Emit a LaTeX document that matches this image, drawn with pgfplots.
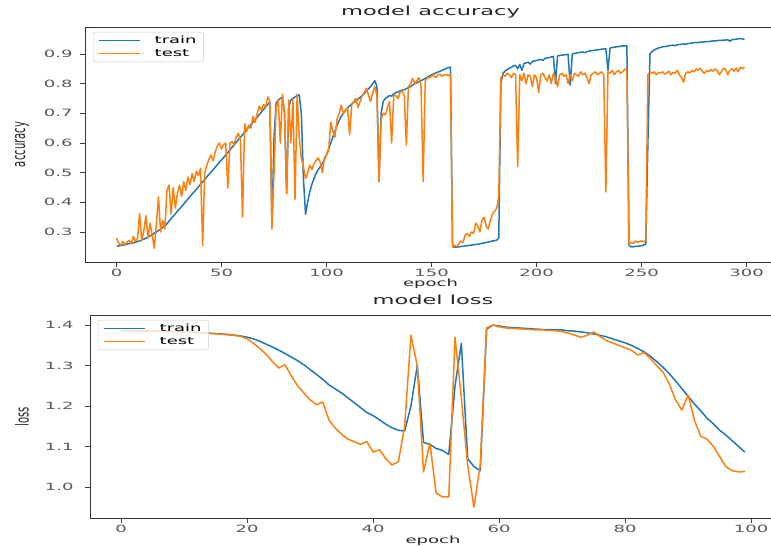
\documentclass[border=0pt]{standalone}
\usepackage{pgfplots}
\pgfplotsset{compat=1.18}
\usepackage{pgfplotstable}
\usepackage{graphicx}
\usepackage{fontspec}
\setmainfont{DejaVu Sans}[FakeStretch=1.8]
\newfontfamily\plainfont{DejaVu Sans}

\definecolor{mplblue}{HTML}{1F77B4}
\definecolor{mplorange}{HTML}{FF7F0E}

% accuracy per epoch: train, test
\pgfplotstableread[row sep=\\]{
e tr te \\
0 0.252 0.280 \\ 1 0.253 0.262 \\ 2 0.254 0.255 \\ 3 0.256 0.268 \\ 4 0.257 0.258 \\
5 0.259 0.265 \\ 6 0.261 0.272 \\ 7 0.262 0.260 \\ 8 0.264 0.285 \\ 9 0.266 0.268 \\
10 0.268 0.278 \\ 11 0.270 0.362 \\ 12 0.273 0.270 \\ 13 0.276 0.305 \\ 14 0.279 0.355 \\
15 0.283 0.280 \\ 16 0.287 0.330 \\ 17 0.291 0.290 \\ 18 0.296 0.245 \\ 19 0.300 0.330 \\
20 0.305 0.418 \\ 21 0.310 0.300 \\ 22 0.315 0.340 \\ 23 0.320 0.310 \\ 24 0.328 0.440 \\
25 0.337 0.458 \\ 26 0.345 0.360 \\ 27 0.353 0.450 \\ 28 0.361 0.380 \\ 29 0.370 0.430 \\
30 0.378 0.458 \\ 31 0.386 0.420 \\ 32 0.394 0.470 \\ 33 0.403 0.440 \\ 34 0.411 0.485 \\
35 0.419 0.460 \\ 36 0.428 0.498 \\ 37 0.436 0.470 \\ 38 0.444 0.505 \\ 39 0.452 0.490 \\
40 0.461 0.515 \\ 41 0.469 0.255 \\ 42 0.477 0.500 \\ 43 0.486 0.525 \\ 44 0.494 0.545 \\
45 0.502 0.560 \\ 46 0.510 0.540 \\ 47 0.518 0.570 \\ 48 0.527 0.590 \\ 49 0.535 0.600 \\
50 0.543 0.580 \\ 51 0.551 0.595 \\ 52 0.560 0.600 \\ 53 0.568 0.448 \\ 54 0.577 0.600 \\
55 0.585 0.605 \\ 56 0.594 0.595 \\ 57 0.602 0.620 \\ 58 0.611 0.633 \\ 59 0.619 0.610 \\
60 0.628 0.350 \\ 61 0.636 0.665 \\ 62 0.645 0.640 \\ 63 0.653 0.660 \\ 64 0.662 0.650 \\
65 0.670 0.690 \\ 66 0.679 0.670 \\ 67 0.687 0.700 \\ 68 0.696 0.724 \\ 69 0.704 0.710 \\
70 0.713 0.730 \\ 71 0.721 0.720 \\ 72 0.730 0.755 \\ 73 0.738 0.740 \\ 74 0.330 0.310 \\
75 0.620 0.500 \\ 76 0.735 0.720 \\ 77 0.745 0.745 \\ 78 0.750 0.600 \\ 79 0.755 0.765 \\
80 0.700 0.700 \\ 81 0.430 0.430 \\ 82 0.720 0.745 \\ 83 0.745 0.600 \\ 84 0.750 0.745 \\
85 0.755 0.410 \\ 86 0.760 0.765 \\ 87 0.762 0.620 \\ 88 0.700 0.550 \\ 89 0.480 0.520 \\
90 0.360 0.480 \\ 91 0.400 0.500 \\ 92 0.435 0.525 \\ 93 0.460 0.510 \\ 94 0.480 0.530 \\
95 0.497 0.540 \\ 96 0.510 0.550 \\ 97 0.520 0.535 \\ 98 0.530 0.500 \\ 99 0.545 0.550 \\
100 0.560 0.560 \\ 101 0.580 0.575 \\ 102 0.600 0.670 \\ 103 0.620 0.640 \\ 104 0.640 0.620 \\
105 0.660 0.680 \\ 106 0.675 0.700 \\ 107 0.690 0.727 \\ 108 0.700 0.700 \\ 109 0.710 0.710 \\
110 0.718 0.720 \\ 111 0.725 0.627 \\ 112 0.731 0.730 \\ 113 0.737 0.740 \\ 114 0.742 0.750 \\
115 0.748 0.720 \\ 116 0.754 0.740 \\ 117 0.760 0.760 \\ 118 0.767 0.770 \\ 119 0.775 0.785 \\
120 0.783 0.760 \\ 121 0.790 0.740 \\ 122 0.800 0.770 \\ 123 0.810 0.790 \\ 124 0.790 0.760 \\
125 0.470 0.470 \\ 126 0.700 0.680 \\ 127 0.740 0.700 \\ 128 0.750 0.695 \\ 129 0.755 0.720 \\
130 0.760 0.740 \\ 131 0.758 0.600 \\ 132 0.765 0.760 \\ 133 0.770 0.760 \\ 134 0.772 0.750 \\
135 0.775 0.770 \\ 136 0.778 0.775 \\ 137 0.780 0.760 \\ 138 0.783 0.593 \\ 139 0.787 0.790 \\
140 0.790 0.800 \\ 141 0.795 0.818 \\ 142 0.800 0.800 \\ 143 0.803 0.810 \\ 144 0.807 0.820 \\
145 0.810 0.790 \\ 146 0.814 0.470 \\ 147 0.818 0.810 \\ 148 0.822 0.820 \\ 149 0.826 0.820 \\
150 0.830 0.825 \\ 151 0.833 0.830 \\ 152 0.836 0.820 \\ 153 0.839 0.830 \\ 154 0.842 0.832 \\
155 0.845 0.825 \\ 156 0.848 0.830 \\ 157 0.851 0.830 \\ 158 0.854 0.828 \\ 159 0.856 0.830 \\
160 0.250 0.250 \\ 161 0.249 0.255 \\ 162 0.249 0.250 \\ 163 0.250 0.260 \\ 164 0.251 0.270 \\
165 0.252 0.265 \\ 166 0.253 0.290 \\ 167 0.254 0.295 \\ 168 0.255 0.285 \\ 169 0.256 0.300 \\
170 0.257 0.295 \\ 171 0.258 0.330 \\ 172 0.259 0.320 \\ 173 0.260 0.300 \\ 174 0.262 0.340 \\
175 0.263 0.350 \\ 176 0.265 0.320 \\ 177 0.266 0.310 \\ 178 0.268 0.340 \\ 179 0.270 0.360 \\
180 0.271 0.370 \\ 181 0.272 0.380 \\ 182 0.280 0.420 \\ 183 0.800 0.820 \\ 184 0.835 0.830 \\
185 0.842 0.825 \\ 186 0.848 0.835 \\ 187 0.852 0.830 \\ 188 0.855 0.820 \\ 189 0.860 0.835 \\
190 0.862 0.830 \\ 191 0.850 0.520 \\ 192 0.865 0.830 \\ 193 0.845 0.810 \\ 194 0.868 0.835 \\
195 0.870 0.800 \\ 196 0.872 0.830 \\ 197 0.866 0.825 \\ 198 0.875 0.790 \\ 199 0.877 0.830 \\
200 0.878 0.820 \\ 201 0.880 0.770 \\ 202 0.882 0.830 \\ 203 0.878 0.835 \\ 204 0.885 0.820 \\
205 0.887 0.810 \\ 206 0.888 0.830 \\ 207 0.890 0.800 \\ 208 0.892 0.835 \\ 209 0.800 0.820 \\
210 0.894 0.790 \\ 211 0.895 0.830 \\ 212 0.896 0.835 \\ 213 0.897 0.825 \\ 214 0.898 0.830 \\
215 0.899 0.800 \\ 216 0.795 0.830 \\ 217 0.900 0.810 \\ 218 0.902 0.835 \\ 219 0.903 0.830 \\
220 0.905 0.825 \\ 221 0.906 0.840 \\ 222 0.907 0.830 \\ 223 0.904 0.835 \\ 224 0.908 0.820 \\
225 0.910 0.800 \\ 226 0.911 0.830 \\ 227 0.912 0.835 \\ 228 0.913 0.840 \\ 229 0.914 0.830 \\
230 0.915 0.835 \\ 231 0.916 0.840 \\ 232 0.917 0.830 \\ 233 0.918 0.435 \\ 234 0.845 0.840 \\
235 0.920 0.835 \\ 236 0.922 0.845 \\ 237 0.923 0.830 \\ 238 0.924 0.840 \\ 239 0.925 0.845 \\
240 0.926 0.835 \\ 241 0.927 0.840 \\ 242 0.927 0.850 \\ 243 0.928 0.845 \\ 244 0.255 0.260 \\
245 0.250 0.265 \\ 246 0.250 0.262 \\ 247 0.252 0.270 \\ 248 0.252 0.265 \\ 249 0.253 0.268 \\
250 0.254 0.270 \\ 251 0.256 0.266 \\ 252 0.260 0.272 \\ 253 0.600 0.830 \\ 254 0.900 0.840 \\
255 0.908 0.835 \\ 256 0.914 0.840 \\ 257 0.917 0.830 \\ 258 0.920 0.838 \\ 259 0.922 0.835 \\
260 0.924 0.840 \\ 261 0.925 0.832 \\ 262 0.926 0.836 \\ 263 0.928 0.842 \\ 264 0.929 0.830 \\
265 0.930 0.838 \\ 266 0.928 0.835 \\ 267 0.931 0.845 \\ 268 0.932 0.830 \\ 269 0.933 0.820 \\
270 0.934 0.805 \\ 271 0.933 0.835 \\ 272 0.935 0.840 \\ 273 0.936 0.836 \\ 274 0.937 0.845 \\
275 0.938 0.840 \\ 276 0.938 0.850 \\ 277 0.939 0.845 \\ 278 0.940 0.852 \\ 279 0.940 0.840 \\
280 0.941 0.835 \\ 281 0.942 0.845 \\ 282 0.942 0.840 \\ 283 0.943 0.848 \\ 284 0.944 0.842 \\
285 0.944 0.850 \\ 286 0.945 0.845 \\ 287 0.946 0.830 \\ 288 0.946 0.840 \\ 289 0.947 0.852 \\
290 0.947 0.848 \\ 291 0.948 0.830 \\ 292 0.943 0.845 \\ 293 0.948 0.850 \\ 294 0.949 0.842 \\
295 0.950 0.853 \\ 296 0.951 0.840 \\ 297 0.952 0.855 \\ 298 0.951 0.850 \\ 299 0.949 0.856 \\
}\acc

% loss per epoch: train, test
\pgfplotstableread[row sep=\\]{
e tr te \\
0 1.3865 1.3865 \\ 1 1.3862 1.3862 \\ 2 1.3860 1.3859 \\ 3 1.3858 1.3857 \\ 4 1.3855 1.3853 \\
5 1.3850 1.3850 \\ 6 1.3848 1.3846 \\ 7 1.3845 1.3842 \\ 8 1.3840 1.3838 \\ 9 1.3835 1.3832 \\
10 1.3830 1.3826 \\ 11 1.3825 1.3820 \\ 12 1.3820 1.3813 \\ 13 1.3810 1.3805 \\ 14 1.3800 1.3795 \\
15 1.3790 1.3785 \\ 16 1.3780 1.3772 \\ 17 1.3770 1.3760 \\ 18 1.3750 1.3745 \\ 19 1.3730 1.3720 \\
20 1.3700 1.3660 \\ 21 1.3660 1.3550 \\ 22 1.3600 1.3420 \\ 23 1.3530 1.3280 \\ 24 1.3460 1.3100 \\
25 1.3380 1.2940 \\ 26 1.3300 1.3020 \\ 27 1.3210 1.2750 \\ 28 1.3120 1.2500 \\ 29 1.3020 1.2320 \\
30 1.2900 1.2150 \\ 31 1.2780 1.2030 \\ 32 1.2660 1.2100 \\ 33 1.2520 1.1650 \\ 34 1.2420 1.1450 \\
35 1.2320 1.1300 \\ 36 1.2200 1.1180 \\ 37 1.2080 1.1120 \\ 38 1.1960 1.1050 \\ 39 1.1840 1.1120 \\
40 1.1760 1.0860 \\ 41 1.1660 1.0920 \\ 42 1.1550 1.0700 \\ 43 1.1460 1.0540 \\ 44 1.1400 1.0620 \\
45 1.1380 1.1500 \\ 46 1.2000 1.3750 \\ 47 1.3000 1.3000 \\ 48 1.1100 1.0370 \\ 49 1.1050 1.1080 \\
50 1.0950 0.9850 \\ 51 1.0900 0.9750 \\ 52 1.0800 0.9750 \\ 53 1.2500 1.3700 \\ 54 1.3550 1.2200 \\
55 1.0700 1.0540 \\ 56 1.0500 0.9500 \\ 57 1.0400 1.0540 \\ 58 1.3900 1.3930 \\ 59 1.4000 1.4000 \\
60 1.3980 1.3960 \\ 61 1.3950 1.3930 \\ 62 1.3940 1.3920 \\ 63 1.3930 1.3910 \\ 64 1.3920 1.3900 \\
65 1.3910 1.3890 \\ 66 1.3900 1.3880 \\ 67 1.3890 1.3880 \\ 68 1.3890 1.3870 \\ 69 1.3880 1.3860 \\
70 1.3880 1.3840 \\ 71 1.3860 1.3800 \\ 72 1.3850 1.3750 \\ 73 1.3830 1.3700 \\ 74 1.3810 1.3750 \\
75 1.3780 1.3830 \\ 76 1.3750 1.3720 \\ 77 1.3710 1.3620 \\ 78 1.3660 1.3560 \\ 79 1.3610 1.3500 \\
80 1.3560 1.3440 \\ 81 1.3500 1.3380 \\ 82 1.3420 1.3260 \\ 83 1.3340 1.3320 \\ 84 1.3230 1.3180 \\
85 1.3100 1.3000 \\ 86 1.2960 1.2840 \\ 87 1.2800 1.2550 \\ 88 1.2620 1.2150 \\ 89 1.2430 1.1900 \\
90 1.2240 1.2270 \\ 91 1.2050 1.1650 \\ 92 1.1880 1.1250 \\ 93 1.1700 1.1180 \\ 94 1.1560 1.1000 \\
95 1.1400 1.0750 \\ 96 1.1280 1.0500 \\ 97 1.1140 1.0400 \\ 98 1.1000 1.0370 \\ 99 1.0860 1.0380 \\
}\loss

\pgfplotsset{
  mpl/.style={
    scale only axis,
    axis line style={black!80, line width=0.8pt},
    tick align=outside,
    major tick length=5pt,
    tick style={black!75, line width=0.7pt},
    xtick pos=bottom, ytick pos=left,
    tick label style={font=\fontsize{10}{12}\selectfont, text=black!65},
    yticklabel style={anchor=east, xshift=-4pt},
    xticklabel style={yshift=1pt},
    title style={font=\fontsize{12.5}{14}\selectfont, text=black!85,
      at={(axis description cs:0.5,1)}, anchor=center, yshift=9pt},
    xlabel style={font=\fontsize{10}{12}\selectfont, text=black!85,
      at={(axis description cs:0.5,0)}, anchor=center},
    every axis y label/.style={font=\fontsize{10}{12}\selectfont, text=black!85,
      at={(axis description cs:0,0.5)}, anchor=center, rotate=90},
    legend style={at={(0,1)}, anchor=north west, xshift=8pt, yshift=-5pt,
      draw=black!20, rounded corners=2pt, fill=white, fill opacity=0.8,
      text opacity=1, font=\fontsize{10}{11}\selectfont,
      inner xsep=5pt, inner ysep=2pt, row sep=0pt, column sep=12pt},
    legend image code/.code={\draw[#1] (0pt,0pt) -- (41pt,0pt);},
    legend cell align=left,
    every axis plot/.append style={line width=1.5pt, line join=round},
  }
}

\begin{document}
\begin{tikzpicture}
\useasboundingbox (0,0) rectangle (771pt,546pt);

\begin{axis}[mpl,
  at={(85pt,284pt)}, anchor=south west,
  width=691pt, height=235pt,
  xmin=-15, xmax=314, ymin=0.199, ymax=0.991,
  xtick={0,50,100,150,200,250,300},
  xticklabels={0,50,100,150,200,250,300},
  ytick={0.3,0.4,0.5,0.6,0.7,0.8,0.9},
  yticklabels={0.3,0.4,0.5,0.6,0.7,0.8,0.9},
  title={model accuracy},
  xlabel={epoch}, xlabel style={yshift=-22pt},
  ylabel={\scalebox{1}[1.8]{\plainfont accuracy}}, ylabel style={yshift=63pt},
]
\addplot[mplblue] table[x=e, y=tr] {\acc};
\addplot[mplorange] table[x=e, y=te] {\acc};
\legend{train, test}
\end{axis}

\begin{axis}[mpl,
  at={(90pt,28pt)}, anchor=south west,
  width=686pt, height=203pt,
  xmin=-4.95, xmax=103.95, ymin=0.923, ymax=1.425,
  xtick={0,20,40,60,80,100},
  xticklabels={0,20,40,60,80,100},
  ytick={1.0,1.1,1.2,1.3,1.4},
  yticklabels={1.0,1.1,1.2,1.3,1.4},
  title={model loss},
  xlabel={epoch}, xlabel style={yshift=-23pt},
  ylabel={\scalebox{1}[1.8]{\plainfont loss}}, ylabel style={yshift=68pt},
  yticklabel style={xshift=-4pt},
]
\addplot[mplblue] table[x=e, y=tr] {\loss};
\addplot[mplorange] table[x=e, y=te] {\loss};
\legend{train, test}
\end{axis}
\end{tikzpicture}
\end{document}
